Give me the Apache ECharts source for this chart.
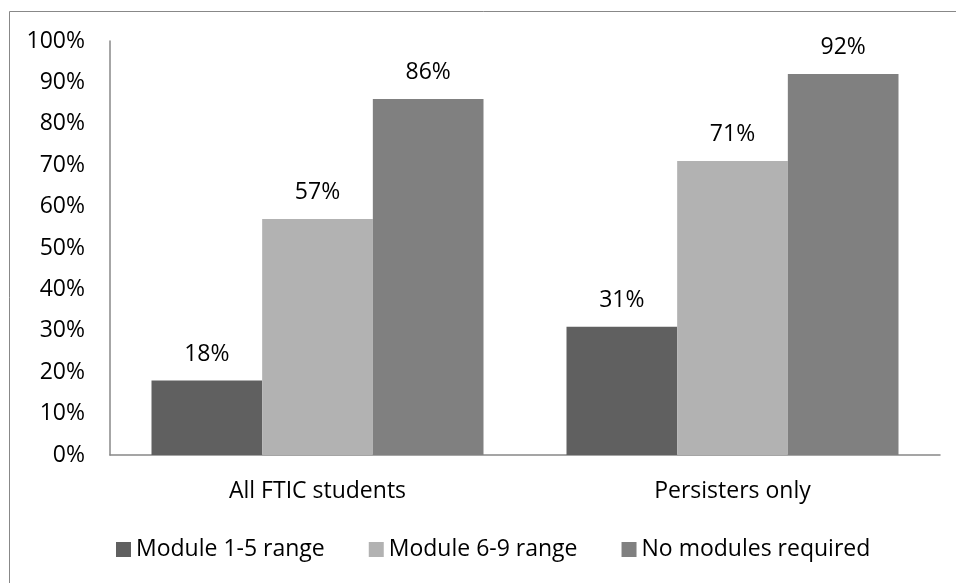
<!DOCTYPE html>
<html>
<head>
<meta charset="utf-8">
<script src="https://cdn.jsdelivr.net/npm/echarts@6/dist/echarts.min.js"></script>
<style>
  html, body { margin: 0; padding: 0; background: #ffffff; }
  #chart { width: 956px; height: 583px; }
</style>
</head>
<body>
<div id="chart"></div>
<script>
// Share of students, by group and module requirement
const categories = ['All FTIC students', 'Persisters only'];
const seriesNames = ['Module 1-5 range', 'Module 6-9 range', 'No modules required'];
const module15 = [18, 31];
const module69 = [57, 71];
const noModules = [86, 92];
const yTicks = [0, 10, 20, 30, 40, 50, 60, 70, 80, 90, 100];

const colors = ['#606060', '#b2b2b2', '#808080'];
const FONT = '"Open Sans", sans-serif';
const values = [module15, module69, noModules];

const chart = echarts.init(document.getElementById('chart'), null, { renderer: 'canvas' });

chart.setOption({
  animation: false,
  backgroundColor: '#ffffff',
  textStyle: { fontFamily: FONT },
  graphic: [{
    type: 'rect',
    shape: { x: 9.5, y: 11.5, width: 960, height: 600 },
    style: { fill: 'none', stroke: '#888888', lineWidth: 1 },
    silent: true
  }],
  grid: { left: 110, right: 16, top: 41, bottom: 128, containLabel: false },
  legend: {
    data: seriesNames,
    left: 111,
    top: 533,
    itemWidth: 15,
    itemHeight: 15,
    itemGap: 44,
    icon: 'rect',
    textStyle: { fontFamily: FONT, fontSize: 23, color: '#000000' }
  },
  xAxis: {
    type: 'category',
    data: categories,
    axisLine: { show: true, lineStyle: { color: '#888888', width: 1.5 } },
    axisTick: { show: false },
    axisLabel: { fontFamily: FONT, fontSize: 23, color: '#000000', margin: 25 },
    splitLine: { show: false }
  },
  yAxis: {
    type: 'value',
    min: yTicks[0],
    max: yTicks[yTicks.length - 1],
    interval: 10,
    axisLine: { show: true, lineStyle: { color: '#888888', width: 1.5 } },
    axisTick: { show: false },
    splitLine: { show: false },
    axisLabel: {
      fontFamily: FONT, fontSize: 23, color: '#000000', margin: 25,
      formatter: v => v + '%'
    }
  },
  series: seriesNames.map((name, i) => ({
    name: name,
    type: 'bar',
    data: values[i],
    barGap: '0%',
    barCategoryGap: '20%',
    itemStyle: { color: colors[i] },
    label: {
      show: true,
      position: 'top',
      distance: 15,
      fontFamily: FONT,
      fontSize: 23,
      color: '#000000',
      formatter: p => p.value + '%'
    }
  }))
});
</script>
</body>
</html>
